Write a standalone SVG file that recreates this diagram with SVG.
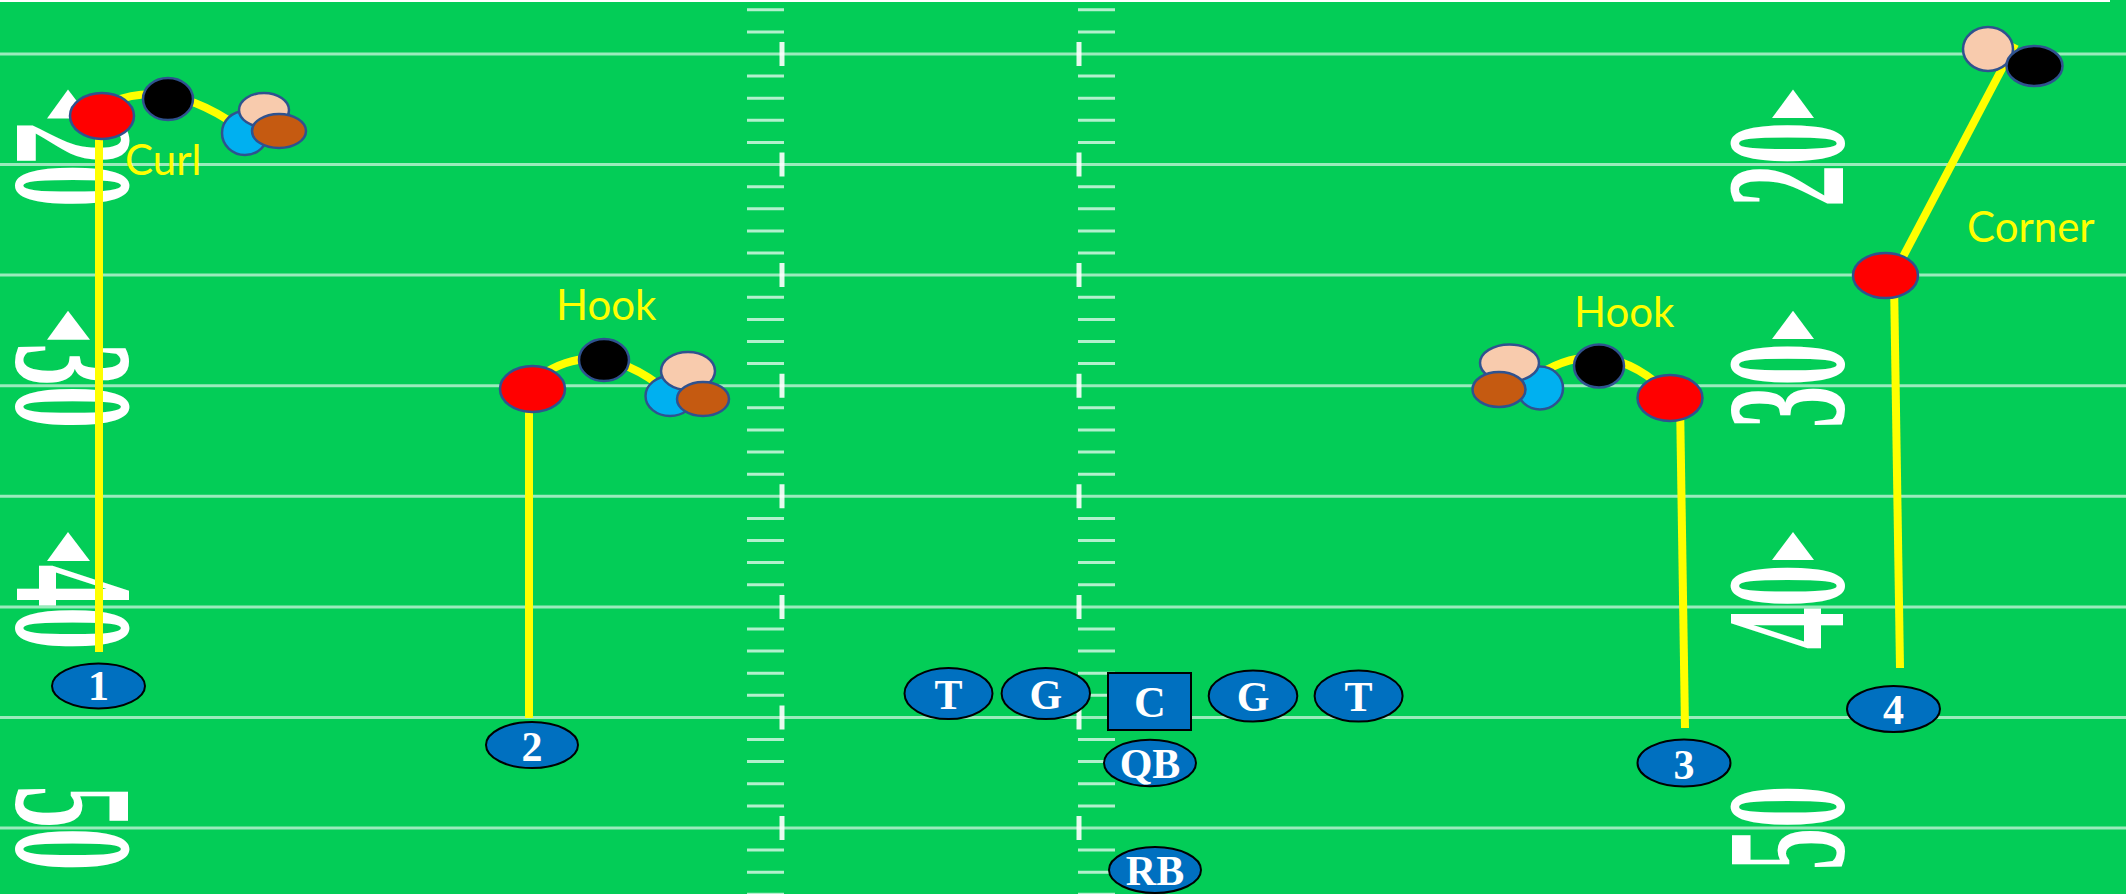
<svg xmlns="http://www.w3.org/2000/svg" xmlns:xlink="http://www.w3.org/1999/xlink" width="2126" height="894" viewBox="0 0 2126 894">
<style>
.yl{stroke:#ffffff;stroke-opacity:0.6;stroke-width:3}
.dash{stroke:#ffffff;stroke-opacity:0.7;stroke-width:3;fill:none}
.tick{stroke:#ffffff;stroke-opacity:0.9;stroke-width:5}
.num{font-family:"Liberation Serif",serif;font-weight:bold;font-size:170px;fill:#ffffff;text-anchor:middle}
.tri{fill:#ffffff}
.route{stroke:#FFFF00;stroke-width:8;fill:none}
.lbl{fill:#FFFF00;font-family:Lato,"Open Sans",sans-serif;font-size:42px}
.def{stroke:#2F528F;stroke-width:2.5}
.red{fill:#FF0000}.blk{fill:#000000}.pch{fill:#F8CBAD}.cyn{fill:#00B0F0}.brn{fill:#C55A11}
.pl{fill:#0070C0;stroke:#000000;stroke-width:2}
.pt{fill:#ffffff;font-family:"Liberation Serif",serif;font-weight:bold;font-size:42px;text-anchor:middle}
</style>
<defs>
<path id="dashcol" class="dash" d="M0 9.8h37M0 31.9h37M0 76.1h37M0 98.2h37M0 120.3h37M0 142.5h37M0 186.7h37M0 208.8h37M0 230.9h37M0 253h37M0 297.3h37M0 319.4h37M0 341.5h37M0 363.6h37M0 407.8h37M0 429.9h37M0 452.1h37M0 474.2h37M0 518.4h37M0 540.5h37M0 562.6h37M0 584.7h37M0 629h37M0 651.1h37M0 673.2h37M0 695.3h37M0 739.5h37M0 761.6h37M0 783.8h37M0 805.9h37M0 850.1h37M0 872.2h37M0 894.3h37"/>
</defs>
<g id="field">
<rect x="0" y="0" width="2126" height="894" fill="#03CD57"/>
<rect x="0" y="0" width="2110" height="2" fill="#ffffff"/>
<g id="yardlines">
<line class="yl" x1="0" y1="54" x2="2126" y2="54"/>
<line class="yl" x1="0" y1="164.6" x2="2126" y2="164.6"/>
<line class="yl" x1="0" y1="275.1" x2="2126" y2="275.1"/>
<line class="yl" x1="0" y1="385.7" x2="2126" y2="385.7"/>
<line class="yl" x1="0" y1="496.3" x2="2126" y2="496.3"/>
<line class="yl" x1="0" y1="606.9" x2="2126" y2="606.9"/>
<line class="yl" x1="0" y1="717.4" x2="2126" y2="717.4"/>
<line class="yl" x1="0" y1="828" x2="2126" y2="828"/>
</g>
<g id="hashes">
<use xlink:href="#dashcol" href="#dashcol" x="747" y="0"/>
<use xlink:href="#dashcol" href="#dashcol" x="1078" y="0"/>
<path class="tick" d="M782 42v24M782 152.6v24M782 263.1v24M782 373.7v24M782 484.3v24M782 594.9v24M782 705.4v24M782 816v24M1079 42v24M1079 152.6v24M1079 263.1v24M1079 373.7v24M1079 484.3v24M1079 594.9v24M1079 705.4v24M1079 816v24"/>
</g>
<g id="numbers-left">
<polygon class="tri" points="68,89.6 47,118.6 90,118.6"/>
<polygon class="tri" points="68,310.7 47,339.7 90,339.7"/>
<polygon class="tri" points="68,531.9 47,560.9 90,560.9"/>
<text class="num" transform="translate(17,164.6) rotate(90) scale(0.5,1)">20</text>
<text class="num" transform="translate(17,385.7) rotate(90) scale(0.5,1)">30</text>
<text class="num" transform="translate(17,606.9) rotate(90) scale(0.5,1)">40</text>
<text class="num" transform="translate(17,828) rotate(90) scale(0.5,1)">50</text>
</g>
<g id="numbers-right">
<polygon class="tri" points="1793,89.6 1772,118 1814,118"/>
<polygon class="tri" points="1793,310.7 1772,339 1814,339"/>
<polygon class="tri" points="1793,531.9 1772,560 1814,560"/>
<text class="num" transform="translate(1843,164.6) rotate(-90) scale(0.5,1)">20</text>
<text class="num" transform="translate(1843,385.7) rotate(-90) scale(0.5,1)">30</text>
<text class="num" transform="translate(1843,606.9) rotate(-90) scale(0.5,1)">40</text>
<text class="num" transform="translate(1843,828) rotate(-90) scale(0.5,1)">50</text>
</g>
</g>
<g id="connectors">
<line class="route" x1="99" y1="120" x2="99" y2="652"/>
<path class="route" d="M112 102 Q170 78 240 128"/>
<line class="route" x1="529" y1="392" x2="529" y2="718"/>
<path class="route" d="M540 376 Q600 335 668 392"/>
<line class="route" x1="1680" y1="400" x2="1685" y2="728"/>
<path class="route" d="M1530 380 Q1600 330 1665 390"/>
<line class="route" x1="1894" y1="280" x2="1900" y2="668"/>
<line class="route" x1="1895" y1="272" x2="2015" y2="44"/>
</g>
<g id="route-labels">
<text class="lbl" x="125" y="175">Curl</text>
<text class="lbl" x="556" y="320">Hook</text>
<text class="lbl" x="1574" y="327">Hook</text>
<text class="lbl" x="1967" y="242">Corner</text>
</g>
<g id="receiver1-route-players">
<ellipse class="def red" cx="102" cy="116" rx="32" ry="23"/>
<ellipse class="def blk" cx="168" cy="99" rx="25" ry="21"/>
<ellipse class="def cyn" cx="245" cy="133" rx="23" ry="22"/>
<ellipse class="def pch" cx="264" cy="110" rx="25" ry="17"/>
<ellipse class="def brn" cx="279" cy="131" rx="27" ry="17"/>
</g>
<g id="receiver2-route-players">
<ellipse class="def red" cx="532.5" cy="389" rx="32.5" ry="23"/>
<ellipse class="def blk" cx="604" cy="360" rx="25" ry="21"/>
<ellipse class="def cyn" cx="670" cy="396" rx="24.5" ry="20"/>
<ellipse class="def pch" cx="688" cy="371" rx="27" ry="19"/>
<ellipse class="def brn" cx="703" cy="399" rx="26" ry="17"/>
</g>
<g id="receiver3-route-players">
<ellipse class="def red" cx="1670" cy="398" rx="32.5" ry="23"/>
<ellipse class="def blk" cx="1599" cy="366" rx="25" ry="21.5"/>
<ellipse class="def cyn" cx="1540" cy="388" rx="23" ry="21.5"/>
<ellipse class="def pch" cx="1509.5" cy="363" rx="29.5" ry="18.5"/>
<ellipse class="def brn" cx="1499" cy="389.5" rx="26.5" ry="17.5"/>
</g>
<g id="receiver4-route-players">
<ellipse class="def red" cx="1885.5" cy="275.5" rx="32.5" ry="22.5"/>
<ellipse class="def pch" cx="1988" cy="49" rx="25" ry="22"/>
<ellipse class="def blk" cx="2034.5" cy="66" rx="28" ry="20"/>
</g>
<g id="player-1"><ellipse class="pl" cx="98.5" cy="686" rx="46.5" ry="22.5"/><text class="pt" x="98.5" y="700">1</text></g>
<g id="player-2"><ellipse class="pl" cx="532" cy="745" rx="46" ry="23"/><text class="pt" x="532" y="761">2</text></g>
<g id="player-3"><ellipse class="pl" cx="1684" cy="763" rx="46.5" ry="23.5"/><text class="pt" x="1684" y="779">3</text></g>
<g id="player-4"><ellipse class="pl" cx="1893.5" cy="709" rx="46.5" ry="23"/><text class="pt" x="1893.5" y="724">4</text></g>
<g id="tackle-left"><ellipse class="pl" cx="948.5" cy="693.5" rx="44" ry="25.5"/><text class="pt" x="948.5" y="709">T</text></g>
<g id="guard-left"><ellipse class="pl" cx="1045.8" cy="693.5" rx="44.2" ry="25.5"/><text class="pt" x="1045.8" y="709">G</text></g>
<g id="center"><rect class="pl" x="1108" y="673" width="83" height="57"/><text class="pt" x="1150" y="717" style="font-size:44px">C</text></g>
<g id="guard-right"><ellipse class="pl" cx="1253" cy="696" rx="44.3" ry="25.5"/><text class="pt" x="1253" y="711">G</text></g>
<g id="tackle-right"><ellipse class="pl" cx="1358.6" cy="696" rx="44" ry="25.5"/><text class="pt" x="1358.6" y="711">T</text></g>
<g id="qb"><ellipse class="pl" cx="1150" cy="763" rx="46" ry="23.3"/><text class="pt" x="1150" y="778">QB</text></g>
<g id="rb"><ellipse class="pl" cx="1155" cy="870" rx="46" ry="23"/><text class="pt" x="1155" y="885">RB</text></g>
</svg>
